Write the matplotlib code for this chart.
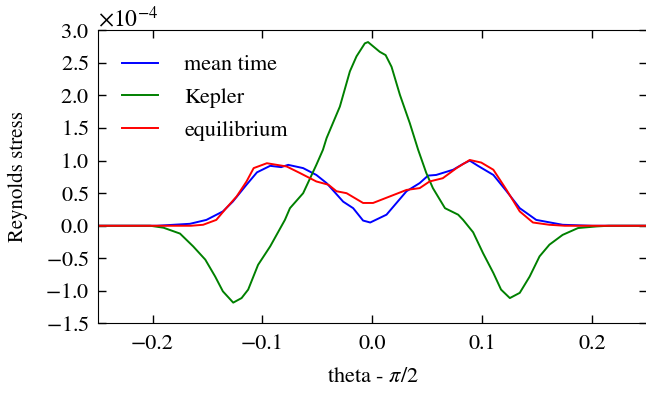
import matplotlib
matplotlib.use("Agg")
import matplotlib.pyplot as plt
import numpy as np
from matplotlib.ticker import ScalarFormatter

# Reynolds stress profiles, values in units of 1e-4
x_mean = [-0.25, -0.196, -0.166, -0.151, -0.136, -0.127, -0.1145, -0.105, -0.093,
          -0.083, -0.0766, -0.063, -0.051, -0.0417, -0.0266, -0.0175, -0.0085,
          -0.002, 0.0128, 0.031, 0.043, 0.0506, 0.058, 0.0734, 0.0825, 0.0885,
          0.096, 0.11, 0.122, 0.134, 0.149, 0.173, 0.2, 0.25]
y_mean = [0.0, 0.0, 0.03, 0.09, 0.22, 0.37, 0.63, 0.82, 0.92,
          0.90, 0.935, 0.885, 0.78, 0.655, 0.37, 0.27, 0.08,
          0.05, 0.17, 0.53, 0.655, 0.77, 0.78, 0.86, 0.95, 1.00,
          0.92, 0.78, 0.53, 0.27, 0.09, 0.015, 0.0, 0.0]

x_kepler = [-0.25, -0.202, -0.19, -0.175, -0.163, -0.152, -0.143, -0.136, -0.1266,
            -0.119, -0.113, -0.104, -0.093, -0.0796, -0.075, -0.063, -0.051,
            -0.045, -0.0417, -0.0296, -0.0205, -0.0145, -0.0069, -0.004, 0.0067,
            0.012, 0.0174, 0.025, 0.034, 0.0416, 0.049, 0.055, 0.066, 0.078,
            0.0825, 0.0916, 0.1006, 0.11, 0.117, 0.125, 0.134, 0.143, 0.152,
            0.161, 0.173, 0.187, 0.204, 0.215, 0.25]
y_kepler = [0.0, 0.0, -0.03, -0.12, -0.317, -0.52, -0.78, -1.007, -1.18,
            -1.11, -0.98, -0.60, -0.317, 0.09, 0.27, 0.50, 0.935,
            1.166, 1.345, 1.83, 2.37, 2.60, 2.80, 2.82, 2.67,
            2.62, 2.44, 2.01, 1.575, 1.166, 0.81, 0.578, 0.27, 0.17,
            0.09, -0.10, -0.42, -0.725, -0.98, -1.11, -1.03, -0.78, -0.47,
            -0.29, -0.14, -0.035, -0.01, 0.0, 0.0]

x_eq = [-0.25, -0.165, -0.154, -0.142, -0.133, -0.1235, -0.1145, -0.108, -0.096,
        -0.087, -0.078, -0.066, -0.051, -0.040, -0.0327, -0.0235, -0.0085,
        0.0006, 0.0158, 0.031, 0.043, 0.052, 0.064, 0.0765, 0.0885, 0.099,
        0.11, 0.122, 0.134, 0.146, 0.161, 0.175, 0.25]
y_eq = [0.0, 0.0, 0.015, 0.09, 0.27, 0.45, 0.68, 0.885, 0.96,
        0.935, 0.91, 0.81, 0.68, 0.63, 0.53, 0.50, 0.35,
        0.35, 0.45, 0.55, 0.578, 0.68, 0.73, 0.885, 1.01, 0.97,
        0.86, 0.55, 0.22, 0.05, 0.015, 0.0, 0.0]

labels = ["mean time", "Kepler", "equilibrium"]

plt.rcParams["font.family"] = ["STIXGeneral", "DejaVu Serif"]
plt.rcParams["mathtext.fontset"] = "stix"
plt.rcParams["font.size"] = 16
plt.rcParams["axes.unicode_minus"] = True

fig = plt.figure(figsize=(6.46, 3.94), dpi=100)
ax = fig.add_axes([0.151, 0.179, 0.851, 0.744])

scale = 1e-4
ax.plot(x_mean, np.array(y_mean) * scale, color="blue", lw=1.4, label=labels[0])
ax.plot(x_kepler, np.array(y_kepler) * scale, color="green", lw=1.4, label=labels[1])
ax.plot(x_eq, np.array(y_eq) * scale, color="red", lw=1.4, label=labels[2])

ax.set_xlim(-0.25, 0.25)
ax.set_ylim(-1.5e-4, 3.0e-4)
ax.set_xticks([-0.2, -0.1, 0.0, 0.1, 0.2])
ax.set_yticks(np.arange(-1.5, 3.01, 0.5) * scale)

fmt = ScalarFormatter(useMathText=True)
fmt.set_powerlimits((-3, 3))
ax.yaxis.set_major_formatter(fmt)
ax.xaxis.set_major_formatter(ScalarFormatter())

ax.tick_params(direction="in", length=6, width=1, top=True, right=True,
               labelsize=16)
ax.tick_params(axis="x", pad=8)
ax.tick_params(axis="y", pad=6)
ax.yaxis.get_offset_text().set_fontsize(17)

ax.set_xlabel(r"theta - $\pi/2$", fontsize=16, labelpad=9)
ax.set_ylabel("Reynolds stress", fontsize=15, labelpad=12)

ax.legend(loc="upper left", frameon=False, fontsize=16, handlelength=1.6,
          handletextpad=1.2, labelspacing=0.55, borderaxespad=0.7)

fig.savefig("out.png", dpi=100)
